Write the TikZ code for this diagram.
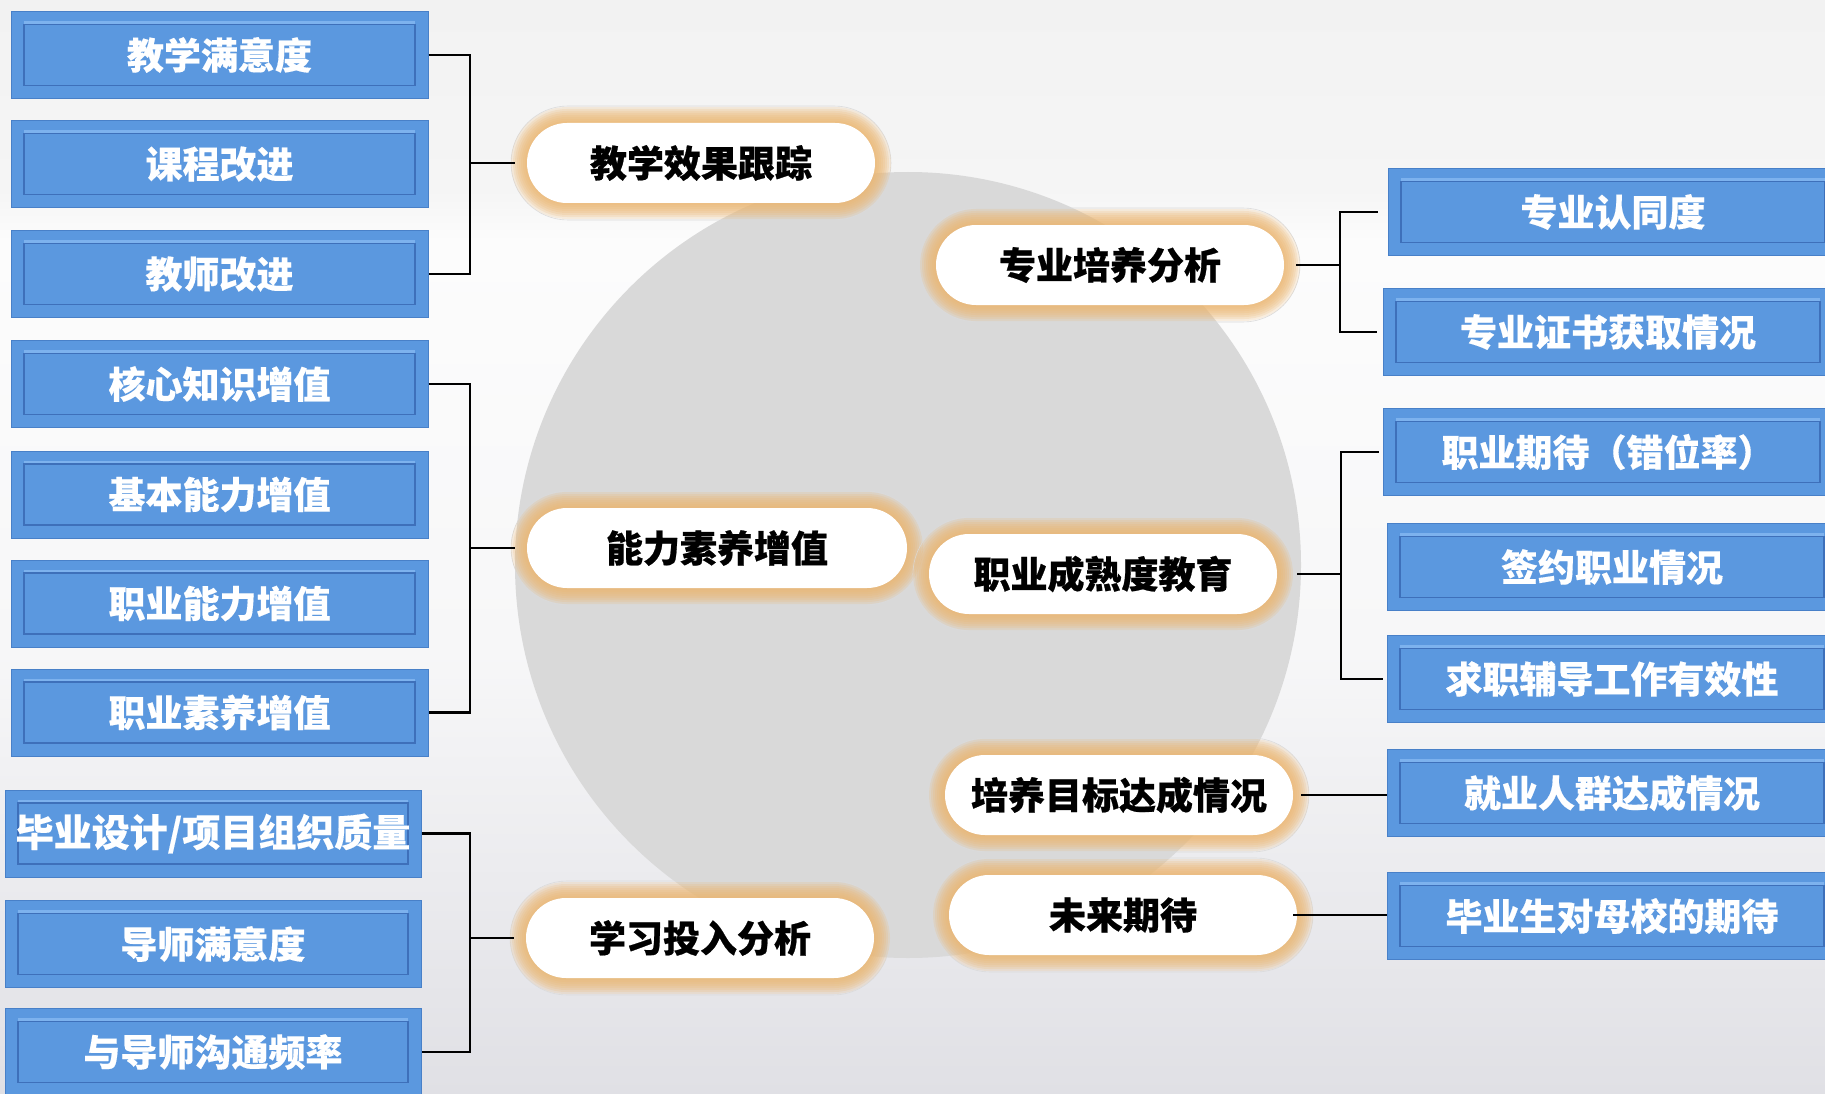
\documentclass[tikz,border=0pt]{standalone}
\usepackage{fontspec}
\newfontfamily\cjk[BoldFeatures={FakeBold=0.6}]{Noto Sans CJK SC}
\newfontfamily\cjkw[BoldFeatures={FakeBold=0.3}]{Noto Sans CJK SC}
\usetikzlibrary{calc}

\definecolor{boxblue}{RGB}{91,152,223}
\definecolor{boxedge}{RGB}{72,128,200}
\definecolor{innerdark}{RGB}{62,112,186}
\definecolor{innerlight}{RGB}{125,178,238}
\definecolor{glowc}{RGB}{236,182,112}
\definecolor{circgray}{RGB}{217,217,217}
\definecolor{bgtop}{RGB}{242,242,242}
\definecolor{bgtopb}{RGB}{245,245,245}
\definecolor{bgwhite}{RGB}{252,252,252}
\definecolor{bgmid}{RGB}{247,247,248}
\definecolor{bgbot}{RGB}{224,224,229}

\pgfdeclareverticalshading{bgshade}{100bp}{color(0bp)=(bgbot); color(25bp)=(bgbot); color(45.3bp)=(bgmid); color(64bp)=(bgwhite); color(66.3bp)=(bgtopb); color(75bp)=(bgtop); color(100bp)=(bgtop)}

\tikzset{
  bluebox/.style={draw=boxedge, line width=1pt, fill=boxblue, minimum width=417pt,
    minimum height=87pt, inner sep=0pt, text=white,
    font=\cjkw\bfseries\fontsize{37}{40}\selectfont,
    path picture={
      \draw[innerlight, line width=2.5pt]
        ($(path picture bounding box.north west)+(13pt,-11pt)$) --
        ($(path picture bounding box.north east)+(-13pt,-11pt)$);
      \draw[innerdark, line width=1.3pt]
        ($(path picture bounding box.south west)+(13pt,13pt)$) rectangle
        ($(path picture bounding box.north east)+(-13pt,-13pt)$);
    }},
  pillst/.style={fill=white, rounded corners=40pt, minimum height=80pt,
    inner sep=0pt, text=black, font=\cjk\bfseries\fontsize{37}{40}\selectfont},
  conn/.style={draw=black, line width=2.5pt}
}

% #1 name, #2 x, #3 y, #4 width, #5 text
\newcommand\pillat[5]{%
  \draw[black!14, line width=0.6pt, rounded corners=57pt]
    (#2-#4/2-16, #3-57) rectangle (#2+#4/2+16, #3+57);
  \foreach \e in {2,4,...,16}{%
    \pgfmathsetmacro\rr{40+\e}%
    \fill[glowc, opacity=0.2, rounded corners=\rr pt]
      (#2-#4/2-\e, #3-40-\e) rectangle (#2+#4/2+\e, #3+40+\e);
  }
  \node[pillst, minimum width=#4 pt] (#1) at (#2,#3) {#5};
}

\begin{document}
\begin{tikzpicture}[x=1pt,y=-1pt]
\useasboundingbox (0,0) rectangle (1825,1094);
\clip (0,0) rectangle (1825,1094);
\shade[shading=bgshade] (0,0) rectangle (1825,1094);
\fill[circgray] (908,565) circle[radius=393];

% left boxes
\node[bluebox] (a1) at (219.5,55) {教学满意度};
\node[bluebox] (a2) at (219.5,164) {课程改进};
\node[bluebox] (a3) at (219.5,274) {教师改进};
\node[bluebox] (b1) at (219.5,384) {核心知识增值};
\node[bluebox] (b2) at (219.5,494.5) {基本能力增值};
\node[bluebox] (b3) at (219.5,603.5) {职业能力增值};
\node[bluebox] (b4) at (219.5,712.5) {职业素养增值};
\node[bluebox, minimum width=416pt, font=\cjkw\bfseries\fontsize{38}{40}\selectfont] (c1) at (213,833.5) {毕业设计/项目组织质量};
\node[bluebox, minimum width=416pt] (c2) at (213,944) {导师满意度};
\node[bluebox, minimum width=416pt] (c3) at (213,1052) {与导师沟通频率};

% right boxes
\node[bluebox, minimum width=450pt] (d1) at (1613,212) {专业认同度};
\node[bluebox, minimum width=450pt] (d2) at (1608,332) {专业证书获取情况};
\node[bluebox, minimum width=450pt] (e1) at (1608,452) {职业期待（错位率）};
\node[bluebox, minimum width=450pt] (e2) at (1612,567) {签约职业情况};
\node[bluebox, minimum width=450pt] (e3) at (1612,679) {求职辅导工作有效性};
\node[bluebox, minimum width=450pt] (f1) at (1612,793) {就业人群达成情况};
\node[bluebox, minimum width=450pt] (g1) at (1612,916) {毕业生对母校的期待};

% pills
\pillat{pA}{701}{163}{348}{教学效果跟踪}
\pillat{pB}{717}{548}{380}{能力素养增值}
\pillat{pC}{700}{938}{348}{学习投入分析}
\pillat{pD}{1110}{265}{348}{专业培养分析}
\pillat{pE}{1103}{574}{348}{职业成熟度教育}
\pillat{pF}{1119}{795}{348}{培养目标达成情况}
\pillat{pG}{1123}{915}{348}{未来期待}

% junctions
\coordinate (jA) at (470,163);
\coordinate (jB) at (470,548);
\coordinate (jC) at (470,938);
\coordinate (jD) at (1340,265);
\coordinate (jE) at (1341,574);

% left connectors
\draw[conn] (a1.east) -| (jA) |- (a3.east);
\draw[conn] (jA) -- ([xshift=-12pt]pA.west);
\draw[conn] (b1.east) -| (jB) |- (b4.east);
\draw[conn] (jB) -- ([xshift=-12pt]pB.west);
\draw[conn] (c1.east) -| (jC) |- (c3.east);
\draw[conn] (jC) -- ([xshift=-12pt]pC.west);

% right connectors
\draw[conn] ([xshift=12pt]pD.east) -- (jD);
\draw[conn] ([xshift=-10pt]d1.west) -| (jD) |- ([xshift=-6pt]d2.west);
\draw[conn] ([xshift=20pt]pE.east) -- (jE);
\draw[conn] ([xshift=-4pt]e1.west) -| (jE) |- ([xshift=-4pt]e3.west);
\draw[conn] ([xshift=8pt]pF.east) -- (pF.east -| f1.west);
\draw[conn] ([xshift=-4pt]pG.east) -- (pG.east -| g1.west);
\end{tikzpicture}
\end{document}
